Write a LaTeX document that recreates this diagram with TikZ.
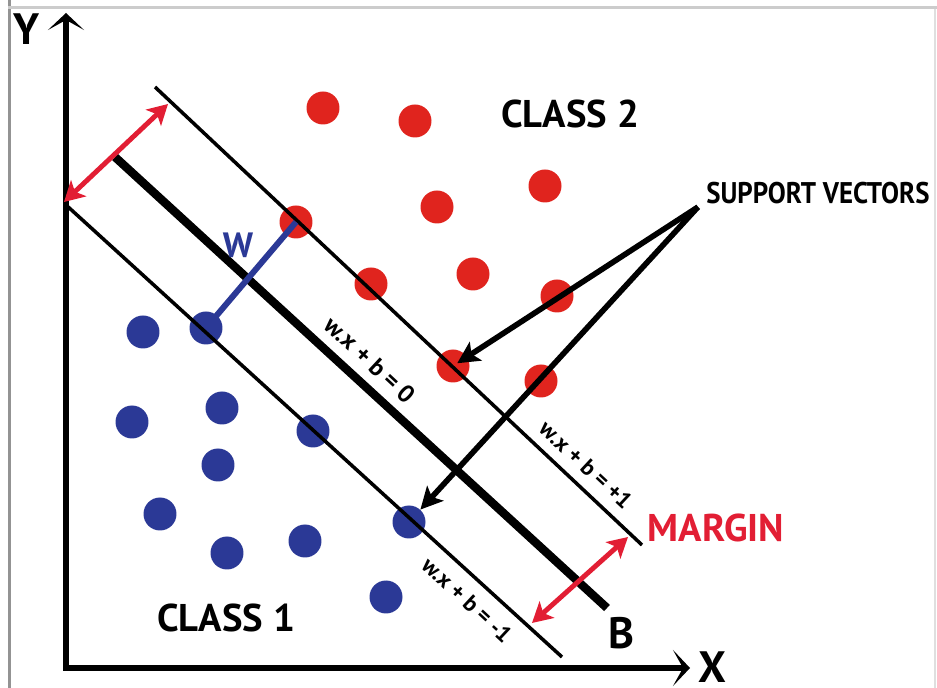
\documentclass[tikz,border=0pt]{standalone}
\usepackage{fontspec}
\setmainfont{PT Sans}
\usetikzlibrary{arrows.meta, positioning}

\definecolor{dotred}{RGB}{224,36,30}
\definecolor{dotblue}{RGB}{43,57,150}
\definecolor{marginred}{RGB}{226,30,52}

\begin{document}
\begin{tikzpicture}[
    x=0.02cm, y=-0.02cm,
    reddot/.style={circle, fill=dotred, minimum size=0.66cm, inner sep=0pt},
    bluedot/.style={circle, fill=dotblue, minimum size=0.66cm, inner sep=0pt},
    axis/.style={line width=3.9pt, {Stealth[length=0.34cm, width=0.72cm, inset=0.2cm]}-{Stealth[length=0.34cm, width=0.72cm, inset=0.2cm]}},
    plane/.style={line width=2pt},
    hyper/.style={line width=4.8pt},
    margin/.style={line width=2.8pt, marginred, {Stealth[length=0.4cm, width=0.44cm, inset=0.1cm]}-{Stealth[length=0.4cm, width=0.44cm, inset=0.1cm]}},
    svarrow/.style={line width=3.2pt, -{Stealth[length=0.44cm, width=0.44cm, inset=0.1cm]}},
    wvec/.style={line width=3.4pt, dotblue},
    biglabel/.style={font=\bfseries\fontsize{25}{27}\selectfont, inner sep=0pt},
    classlabel/.style={font=\bfseries\fontsize{22}{24}\selectfont, inner sep=0pt},
    eqlabel/.style={font=\bfseries\fontsize{13}{15}\selectfont, inner sep=0pt, rotate=-43},
]

    % frame of the picture
    \useasboundingbox (0,0) rectangle (937,688);
    \fill [gray!85] (8,0) rectangle (11,688);
    \fill [gray!40] (8,6) rectangle (937,9);
    \fill [gray!25] (934,9) rectangle (936,688);

    % class 2
    \node (r1) [reddot] at (323,108) {};
    \node (r2) [reddot] at (415,121) {};
    \node (r3) [reddot] at (545,186) {};
    \node (r4) [reddot] at (437,207) {};
    \node (r5) [reddot] at (296,222) {};
    \node (r6) [reddot] at (371,284) {};
    \node (r7) [reddot] at (473,274) {};
    \node (r8) [reddot] at (557,296) {};
    \node (r9) [reddot] at (453,366) {};
    \node (r10) [reddot] at (541,381) {};

    % class 1
    \node (b1) [bluedot] at (143,332) {};
    \node (b2) [bluedot] at (206,328) {};
    \node (b3) [bluedot] at (132,422) {};
    \node (b4) [bluedot] at (222,408) {};
    \node (b5) [bluedot] at (313,431) {};
    \node (b6) [bluedot] at (218,465) {};
    \node (b7) [bluedot] at (160,514) {};
    \node (b8) [bluedot] at (227,553) {};
    \node (b9) [bluedot] at (305,541) {};
    \node (b10) [bluedot] at (409,522) {};
    \node (b11) [bluedot] at (386,597) {};

    % axes
    \coordinate (origin) at (66,668);
    \coordinate (ytip) at (66,13);
    \coordinate (xtip) at (690,668);
    \draw [axis] (ytip) -- (origin) -- (xtip);
    \node (ylabel) [biglabel] at (27,29) {Y};
    \node (xlabel) [biglabel] at (712,667) {X};

    % hyperplanes
    \coordinate (up1) at (155,87);
    \coordinate (up2) at (642,545);
    \coordinate (mid1) at (115,157);
    \coordinate (mid2) at (607,608);
    \coordinate (lo1) at (66,205);
    \coordinate (lo2) at (562,657);
    \draw [plane] (up1) -- (up2);
    \draw [hyper] (mid1) -- (mid2);
    \draw [plane] (lo1) -- (lo2);

    \node (eqzero) [eqlabel, font=\bfseries\fontsize{14}{16}\selectfont] at (370,360) {w.x + b = 0};
    \node (eqplus) [eqlabel] at (586,465) {w.x + b = +1};
    \node (eqminus) [eqlabel] at (467,600) {w.x + b = -1};
    \node (blabel) [biglabel] at (621,633) {B};

    % normal vector
    \draw [wvec] (b2.center) -- (r5.center);
    \node (wlabel) [font=\bfseries\fontsize{20}{22}\selectfont, text=dotblue, inner sep=0pt] at (238,245) {W};

    % margins
    \coordinate (ma1) at (64,202);
    \coordinate (ma2) at (168,104);
    \coordinate (mb1) at (532,623);
    \coordinate (mb2) at (628,537);
    \draw [margin] (ma1) -- (ma2);
    \draw [margin] (mb1) -- (mb2);
    \node (marginlabel) [classlabel, text=marginred] at (716,528) {MARGIN};

    % support vectors
    \node (sv) [font=\bfseries\fontsize{17}{19}\selectfont, inner sep=0pt, xscale=0.9] at (818,193) {SUPPORT VECTORS};
    \coordinate (svtip) at (698,207);
    \draw [svarrow, shorten >=0.1cm] (svtip) -- (r9.center);
    \draw [svarrow] (svtip) -- (b10);

    \node (class2) [classlabel] at (570,114) {CLASS 2};
    \node (class1) [classlabel] at (226,618) {CLASS 1};

\end{tikzpicture}
\end{document}
